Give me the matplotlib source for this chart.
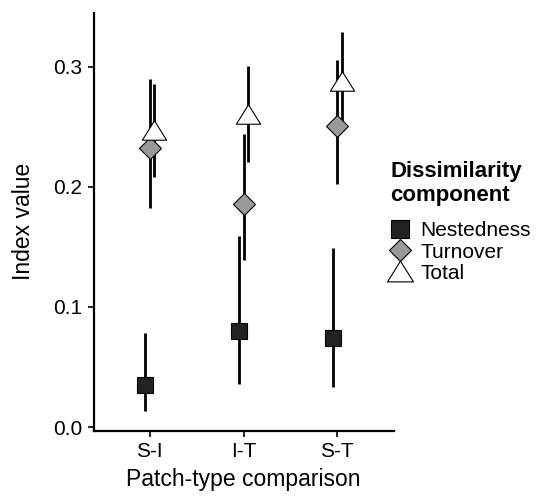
import matplotlib
matplotlib.use("Agg")
import matplotlib.pyplot as plt
import numpy as np
from matplotlib.lines import Line2D
from matplotlib.path import Path

plt.rcParams['font.family'] = ['Liberation Sans', 'DejaVu Sans']

categories = ["S-I", "I-T", "S-T"]
components = ["Nestedness", "Turnover", "Total"]

nest = [0.035, 0.080, 0.074]
nest_lo = [0.013, 0.036, 0.033]
nest_hi = [0.078, 0.159, 0.149]

turn = [0.232, 0.186, 0.251]
turn_lo = [0.182, 0.139, 0.202]
turn_hi = [0.290, 0.244, 0.306]

total = [0.247, 0.261, 0.288]
total_lo = [0.208, 0.221, 0.250]
total_hi = [0.286, 0.301, 0.329]

yticks = [0.0, 0.1, 0.2, 0.3]
ytick_labels = ["0.0", "0.1", "0.2", "0.3"]

W, H = 544, 496
fig = plt.figure(figsize=(W / 100, H / 100), dpi=100)
ax = fig.add_axes([93.5 / W, 65 / H, 300 / W, 418.3 / H])

tri = Path([(0, 0.8), (-1, -0.8), (1, -0.8), (0, 0.8)],
           [Path.MOVETO, Path.LINETO, Path.LINETO, Path.CLOSEPOLY])

styles = [
    dict(marker='s', ms=12.2, mfc='#222222'),
    dict(marker='D', ms=10.8, mfc='#999999'),
    dict(marker=tri, ms=17.5, mfc='white'),
]
series = [(nest, nest_lo, nest_hi), (turn, turn_lo, turn_hi), (total, total_lo, total_hi)]
offsets = [-0.05, 0.0, 0.05]

x = np.arange(1, len(categories) + 1)
for (v, lo, hi), off in zip(series, offsets):
    ax.vlines(x + off, lo, hi, color='black', lw=2.0, zorder=2)
for (v, lo, hi), off, st in zip(series, offsets, styles):
    ax.plot(x + off, v, linestyle='none', marker=st['marker'], ms=st['ms'],
            mfc=st['mfc'], mec='black', mew=0.8, zorder=3)

ax.set_xlim(0.4, 3.6)
ax.set_ylim(-0.0033, 0.345)
ax.set_xticks(x)
ax.set_xticklabels(categories)
ax.set_yticks(yticks)
ax.set_yticklabels(ytick_labels)

for s in ['top', 'right']:
    ax.spines[s].set_visible(False)
for s in ['left', 'bottom']:
    ax.spines[s].set_linewidth(1.6)
ax.tick_params(axis='both', length=4, width=1.2, labelsize=15, colors='black', pad=4)

ax.set_xlabel("Patch-type comparison", fontsize=16.5, labelpad=5)
ax.set_ylabel("Index value", fontsize=16.5, labelpad=13)

handles = [Line2D([], [], linestyle='none', marker=st['marker'], ms=st['ms'] * 1.07,
                  mfc=st['mfc'], mec='black', mew=0.8) for st in styles]
leg = ax.legend(handles, components, title="Dissimilarity\ncomponent",
                loc='upper left', bbox_to_anchor=(390 / W, 1 - 161 / H),
                bbox_transform=fig.transFigure, frameon=False, borderpad=0,
                fontsize=15, title_fontproperties={'weight': 'bold', 'size': 16},
                alignment='left', handlelength=1.0, handletextpad=0.45,
                labelspacing=0.1, borderaxespad=0)
leg._legend_box.sep = 11

fig.savefig("out.png", dpi=100)
